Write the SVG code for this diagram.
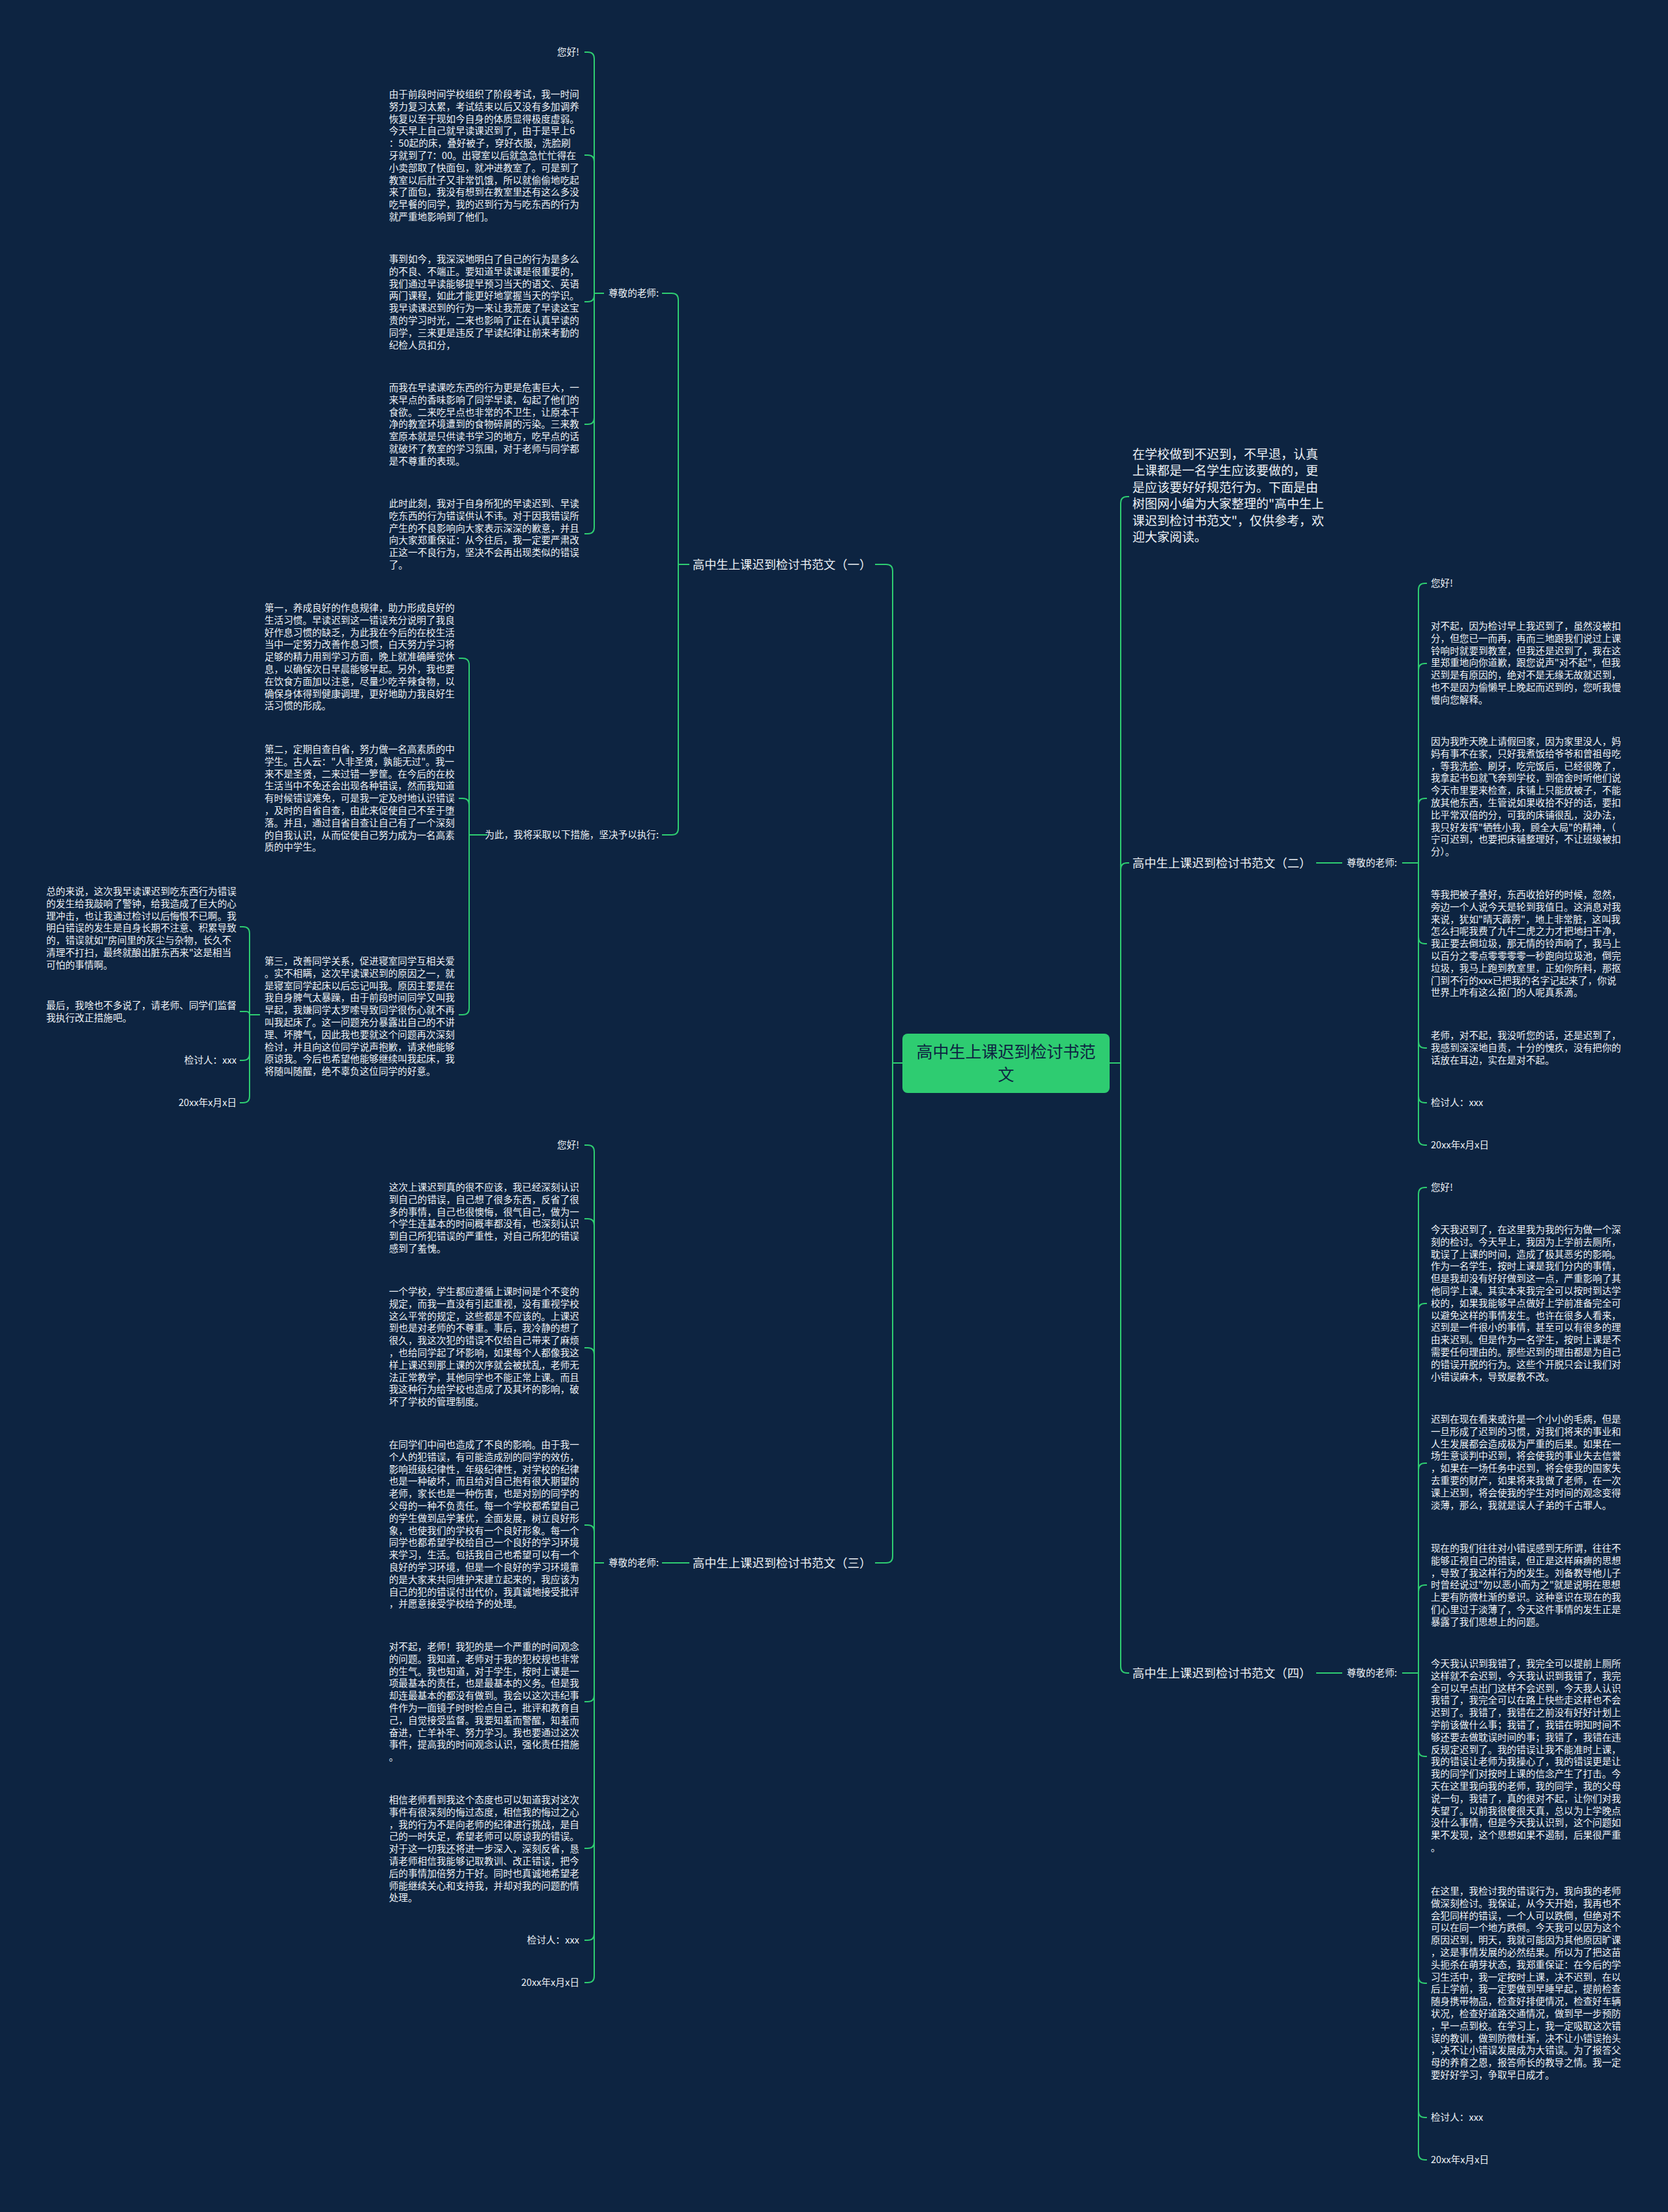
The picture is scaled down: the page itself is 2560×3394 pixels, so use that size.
<svg xmlns="http://www.w3.org/2000/svg" width="2560" height="3394" viewBox="0 0 2560 3394">
<style>
.t{font-family:"Noto Sans CJK SC","Liberation Sans",sans-serif;font-size:14.6px;fill:#eef2f6}
.e{text-anchor:end}
.lb{font-family:"Noto Sans CJK SC","Liberation Sans",sans-serif;font-size:18.3px;fill:#eef2f6}
.in{font-family:"Noto Sans CJK SC","Liberation Sans",sans-serif;font-size:19px;fill:#eef2f6}
.ct{font-family:"Noto Sans CJK SC","Liberation Sans",sans-serif;font-size:25px;fill:#0d2441;text-anchor:middle}
.ln{fill:none;stroke:#2ecc71;stroke-width:2}
</style>
<rect width="2560" height="3394" fill="#0d2441"/>
<g id="connectors" class="ln">
<path d="M1385 1631H1370V876Q1370 866 1360 866H1343"/>
<path d="M1385 1631H1370V2388Q1370 2398 1360 2398H1343"/>
<path d="M1703 1631H1720V772Q1720 762 1730 762H1733"/>
<path d="M1703 1631H1720V1334Q1720 1324 1730 1324H1733"/>
<path d="M1703 1631H1720V2557Q1720 2567 1730 2567H1733"/>
<path d="M1058 866H1041V460Q1041 450 1031 450H1016"/>
<path d="M1058 866H1041V1271Q1041 1281 1031 1281H1016"/>
<path d="M927 450H912V90Q912 80 902 80H897"/>
<path d="M927 450H912V248Q912 238 902 238H897"/>
<path d="M927 450H912V453Q912 463 902 463H897"/>
<path d="M927 450H912V641Q912 651 902 651H897"/>
<path d="M927 450H912V809Q912 819 902 819H897"/>
<path d="M748 1281H720V1020Q720 1010 710 1010H704"/>
<path d="M748 1281H720V1235Q720 1225 710 1225H704"/>
<path d="M748 1281H720V1547Q720 1557 710 1557H704"/>
<path d="M399 1557H383V1432Q383 1422 373 1422H368"/>
<path d="M399 1557H383Q383 1552 378 1552H368"/>
<path d="M399 1557H383V1617Q383 1627 373 1627H368"/>
<path d="M399 1557H383V1682Q383 1692 373 1692H368"/>
<path d="M1058 2398H1016"/>
<path d="M927 2398H912V1767Q912 1757 902 1757H897"/>
<path d="M927 2398H912V1880Q912 1870 902 1870H897"/>
<path d="M927 2398H912V2078Q912 2068 902 2068H897"/>
<path d="M927 2398H912V2350Q912 2340 902 2340H897"/>
<path d="M927 2398H912V2601Q912 2611 902 2611H897"/>
<path d="M927 2398H912V2826Q912 2836 902 2836H897"/>
<path d="M927 2398H912V2967Q912 2977 902 2977H897"/>
<path d="M927 2398H912V3032Q912 3042 902 3042H897"/>
<path d="M2020 1324H2060"/>
<path d="M2020 2567H2060"/>
<path d="M2152 1324H2177V905Q2177 895 2187 895H2190"/>
<path d="M2152 1324H2177V1028Q2177 1018 2187 1018H2190"/>
<path d="M2152 1324H2177V1235Q2177 1225 2187 1225H2190"/>
<path d="M2152 1324H2177V1438Q2177 1448 2187 1448H2190"/>
<path d="M2152 1324H2177V1598Q2177 1608 2187 1608H2190"/>
<path d="M2152 1324H2177V1682Q2177 1692 2187 1692H2190"/>
<path d="M2152 1324H2177V1747Q2177 1757 2187 1757H2190"/>
<path d="M2152 2567H2177V1832Q2177 1822 2187 1822H2190"/>
<path d="M2152 2567H2177V2010Q2177 2000 2187 2000H2190"/>
<path d="M2152 2567H2177V2255Q2177 2245 2187 2245H2190"/>
<path d="M2152 2567H2177V2442Q2177 2432 2187 2432H2190"/>
<path d="M2152 2567H2177V2685Q2177 2695 2187 2695H2190"/>
<path d="M2152 2567H2177V3033Q2177 3043 2187 3043H2190"/>
<path d="M2152 2567H2177V3239Q2177 3249 2187 3249H2190"/>
<path d="M2152 2567H2177V3304Q2177 3314 2187 3314H2190"/>
</g>
<g id="center">
<rect x="1385" y="1586" width="318" height="91" rx="8" fill="#2ecc71"/>
<text class="ct" x="1544" y="1623">高中生上课迟到检讨书范</text>
<text class="ct" x="1544" y="1658">文</text>
</g>
<g id="intro">
<text class="in" x="1738" y="704"><tspan x="1738">在学校做到不迟到，不早退，认真</tspan><tspan x="1738" dy="25.4">上课都是一名学生应该要做的，更</tspan><tspan x="1738" dy="25.4">是应该要好好规范行为。下面是由</tspan><tspan x="1738" dy="25.4">树图网小编为大家整理的"高中生上</tspan><tspan x="1738" dy="25.4">课迟到检讨书范文"，仅供参考，欢</tspan><tspan x="1738" dy="25.4">迎大家阅读。</tspan></text>
</g>
<g id="b1"><text class="lb" x="1063" y="872.5">高中生上课迟到检讨书范文（一）</text></g>
<g id="b1-t"><text class="t e" x="1011" y="455">尊敬的老师:</text></g>
<g id="b1-1"><text class="t e" x="889" y="85">您好!</text></g>
<g id="b1-2"><text class="t" x="597" y="150"><tspan x="597">由于前段时间学校组织了阶段考试，我一时间</tspan><tspan x="597" dy="18.8">努力复习太累，考试结束以后又没有多加调养</tspan><tspan x="597" dy="18.8">恢复以至于现如今自身的体质显得极度虚弱。</tspan><tspan x="597" dy="18.8">今天早上自己就早读课迟到了，由于是早上6</tspan><tspan x="597" dy="18.8">：50起的床，叠好被子，穿好衣服，洗脸刷</tspan><tspan x="597" dy="18.8">牙就到了7：00。出寝室以后就急急忙忙得在</tspan><tspan x="597" dy="18.8">小卖部取了快面包，就冲进教室了。可是到了</tspan><tspan x="597" dy="18.8">教室以后肚子又非常饥饿，所以就偷偷地吃起</tspan><tspan x="597" dy="18.8">来了面包，我没有想到在教室里还有这么多没</tspan><tspan x="597" dy="18.8">吃早餐的同学，我的迟到行为与吃东西的行为</tspan><tspan x="597" dy="18.8">就严重地影响到了他们。</tspan></text></g>
<g id="b1-3"><text class="t" x="597" y="403"><tspan x="597">事到如今，我深深地明白了自己的行为是多么</tspan><tspan x="597" dy="18.8">的不良、不端正。要知道早读课是很重要的，</tspan><tspan x="597" dy="18.8">我们通过早读能够提早预习当天的语文、英语</tspan><tspan x="597" dy="18.8">两门课程，如此才能更好地掌握当天的学识。</tspan><tspan x="597" dy="18.8">我早读课迟到的行为一来让我荒废了早读这宝</tspan><tspan x="597" dy="18.8">贵的学习时光，二来也影响了正在认真早读的</tspan><tspan x="597" dy="18.8">同学，三来更是违反了早读纪律让前来考勤的</tspan><tspan x="597" dy="18.8">纪检人员扣分，</tspan></text></g>
<g id="b1-4"><text class="t" x="597" y="600"><tspan x="597">而我在早读课吃东西的行为更是危害巨大，一</tspan><tspan x="597" dy="18.8">来早点的香味影响了同学早读，勾起了他们的</tspan><tspan x="597" dy="18.8">食欲。二来吃早点也非常的不卫生，让原本干</tspan><tspan x="597" dy="18.8">净的教室环境遭到的食物碎屑的污染。三来教</tspan><tspan x="597" dy="18.8">室原本就是只供读书学习的地方，吃早点的话</tspan><tspan x="597" dy="18.8">就破坏了教室的学习氛围，对于老师与同学都</tspan><tspan x="597" dy="18.8">是不尊重的表现。</tspan></text></g>
<g id="b1-5"><text class="t" x="597" y="778"><tspan x="597">此时此刻，我对于自身所犯的早读迟到、早读</tspan><tspan x="597" dy="18.8">吃东西的行为错误供认不讳。对于因我错误所</tspan><tspan x="597" dy="18.8">产生的不良影响向大家表示深深的歉意，并且</tspan><tspan x="597" dy="18.8">向大家郑重保证：从今往后，我一定要严肃改</tspan><tspan x="597" dy="18.8">正这一不良行为，坚决不会再出现类似的错误</tspan><tspan x="597" dy="18.8">了。</tspan></text></g>
<g id="b1-w"><text class="t e" x="1011" y="1286">为此，我将采取以下措施，坚决予以执行:</text></g>
<g id="b1-w1"><text class="t" x="406" y="938"><tspan x="406">第一，养成良好的作息规律，助力形成良好的</tspan><tspan x="406" dy="18.8">生活习惯。早读迟到这一错误充分说明了我良</tspan><tspan x="406" dy="18.8">好作息习惯的缺乏，为此我在今后的在校生活</tspan><tspan x="406" dy="18.8">当中一定努力改善作息习惯，白天努力学习将</tspan><tspan x="406" dy="18.8">足够的精力用到学习方面，晚上就准确睡觉休</tspan><tspan x="406" dy="18.8">息，以确保次日早晨能够早起。另外，我也要</tspan><tspan x="406" dy="18.8">在饮食方面加以注意，尽量少吃辛辣食物，以</tspan><tspan x="406" dy="18.8">确保身体得到健康调理，更好地助力我良好生</tspan><tspan x="406" dy="18.8">活习惯的形成。</tspan></text></g>
<g id="b1-w2"><text class="t" x="406" y="1155"><tspan x="406">第二，定期自查自省，努力做一名高素质的中</tspan><tspan x="406" dy="18.8">学生。古人云："人非圣贤，孰能无过"。我一</tspan><tspan x="406" dy="18.8">来不是圣贤，二来过错一箩筐。在今后的在校</tspan><tspan x="406" dy="18.8">生活当中不免还会出现各种错误，然而我知道</tspan><tspan x="406" dy="18.8">有时候错误难免，可是我一定及时地认识错误</tspan><tspan x="406" dy="18.8">，及时的自省自查，由此来促使自己不至于堕</tspan><tspan x="406" dy="18.8">落。并且，通过自省自查让自己有了一个深刻</tspan><tspan x="406" dy="18.8">的自我认识，从而促使自己努力成为一名高素</tspan><tspan x="406" dy="18.8">质的中学生。</tspan></text></g>
<g id="b1-w3"><text class="t" x="406" y="1480"><tspan x="406">第三，改善同学关系，促进寝室同学互相关爱</tspan><tspan x="406" dy="18.8">。实不相瞒，这次早读课迟到的原因之一，就</tspan><tspan x="406" dy="18.8">是寝室同学起床以后忘记叫我。原因主要是在</tspan><tspan x="406" dy="18.8">我自身脾气太暴躁，由于前段时间同学又叫我</tspan><tspan x="406" dy="18.8">早起，我嫌同学太罗嗦导致同学很伤心就不再</tspan><tspan x="406" dy="18.8">叫我起床了。这一问题充分暴露出自己的不讲</tspan><tspan x="406" dy="18.8">理、坏脾气，因此我也要就这个问题再次深刻</tspan><tspan x="406" dy="18.8">检讨，并且向这位同学说声抱歉，请求他能够</tspan><tspan x="406" dy="18.8">原谅我。今后也希望他能够继续叫我起床，我</tspan><tspan x="406" dy="18.8">将随叫随醒，绝不辜负这位同学的好意。</tspan></text></g>
<g id="b1-w3-1"><text class="t" x="71" y="1373"><tspan x="71">总的来说，这次我早读课迟到吃东西行为错误</tspan><tspan x="71" dy="18.8">的发生给我敲响了警钟，给我造成了巨大的心</tspan><tspan x="71" dy="18.8">理冲击，也让我通过检讨以后悔恨不已啊。我</tspan><tspan x="71" dy="18.8">明白错误的发生是自身长期不注意、积累导致</tspan><tspan x="71" dy="18.8">的，错误就如"房间里的灰尘与杂物，长久不</tspan><tspan x="71" dy="18.8">清理不打扫，最终就酿出脏东西来"这是相当</tspan><tspan x="71" dy="18.8">可怕的事情啊。</tspan></text></g>
<g id="b1-w3-2"><text class="t" x="71" y="1548"><tspan x="71">最后，我啥也不多说了，请老师、同学们监督</tspan><tspan x="71" dy="18.8">我执行改正措施吧。</tspan></text></g>
<g id="b1-w3-3"><text class="t e" x="363" y="1632">检讨人：xxx</text></g>
<g id="b1-w3-4"><text class="t e" x="363" y="1697">20xx年x月x日</text></g>
<g id="b3"><text class="lb" x="1063" y="2404.5">高中生上课迟到检讨书范文（三）</text></g>
<g id="b3-t"><text class="t e" x="1011" y="2403">尊敬的老师:</text></g>
<g id="b3-1"><text class="t e" x="889" y="1762">您好!</text></g>
<g id="b3-2"><text class="t" x="597" y="1827"><tspan x="597">这次上课迟到真的很不应该，我已经深刻认识</tspan><tspan x="597" dy="18.8">到自己的错误，自己想了很多东西，反省了很</tspan><tspan x="597" dy="18.8">多的事情，自己也很懊悔，很气自己，做为一</tspan><tspan x="597" dy="18.8">个学生连基本的时间概率都没有，也深刻认识</tspan><tspan x="597" dy="18.8">到自己所犯错误的严重性，对自己所犯的错误</tspan><tspan x="597" dy="18.8">感到了羞愧。</tspan></text></g>
<g id="b3-3"><text class="t" x="597" y="1987"><tspan x="597">一个学校，学生都应遵循上课时间是个不变的</tspan><tspan x="597" dy="18.8">规定，而我一直没有引起重视，没有重视学校</tspan><tspan x="597" dy="18.8">这么平常的规定，这些都是不应该的。上课迟</tspan><tspan x="597" dy="18.8">到也是对老师的不尊重。事后，我冷静的想了</tspan><tspan x="597" dy="18.8">很久，我这次犯的错误不仅给自己带来了麻烦</tspan><tspan x="597" dy="18.8">，也给同学起了坏影响，如果每个人都像我这</tspan><tspan x="597" dy="18.8">样上课迟到那上课的次序就会被扰乱，老师无</tspan><tspan x="597" dy="18.8">法正常教学，其他同学也不能正常上课。而且</tspan><tspan x="597" dy="18.8">我这种行为给学校也造成了及其坏的影响，破</tspan><tspan x="597" dy="18.8">坏了学校的管理制度。</tspan></text></g>
<g id="b3-4"><text class="t" x="597" y="2222"><tspan x="597">在同学们中间也造成了不良的影响。由于我一</tspan><tspan x="597" dy="18.8">个人的犯错误，有可能造成别的同学的效仿，</tspan><tspan x="597" dy="18.8">影响班级纪律性，年级纪律性，对学校的纪律</tspan><tspan x="597" dy="18.8">也是一种破坏，而且给对自己抱有很大期望的</tspan><tspan x="597" dy="18.8">老师，家长也是一种伤害，也是对别的同学的</tspan><tspan x="597" dy="18.8">父母的一种不负责任。每一个学校都希望自己</tspan><tspan x="597" dy="18.8">的学生做到品学兼优，全面发展，树立良好形</tspan><tspan x="597" dy="18.8">象，也使我们的学校有一个良好形象。每一个</tspan><tspan x="597" dy="18.8">同学也都希望学校给自己一个良好的学习环境</tspan><tspan x="597" dy="18.8">来学习，生活。包括我自己也希望可以有一个</tspan><tspan x="597" dy="18.8">良好的学习环境，但是一个良好的学习环境靠</tspan><tspan x="597" dy="18.8">的是大家来共同维护来建立起来的，我应该为</tspan><tspan x="597" dy="18.8">自己的犯的错误付出代价，我真诚地接受批评</tspan><tspan x="597" dy="18.8">，并愿意接受学校给予的处理。</tspan></text></g>
<g id="b3-5"><text class="t" x="597" y="2532"><tspan x="597">对不起，老师！我犯的是一个严重的时间观念</tspan><tspan x="597" dy="18.8">的问题。我知道，老师对于我的犯校规也非常</tspan><tspan x="597" dy="18.8">的生气。我也知道，对于学生，按时上课是一</tspan><tspan x="597" dy="18.8">项最基本的责任，也是最基本的义务。但是我</tspan><tspan x="597" dy="18.8">却连最基本的都没有做到。我会以这次违纪事</tspan><tspan x="597" dy="18.8">件作为一面镜子时时检点自己，批评和教育自</tspan><tspan x="597" dy="18.8">己，自觉接受监督。我要知羞而警醒，知羞而</tspan><tspan x="597" dy="18.8">奋进，亡羊补牢、努力学习。我也要通过这次</tspan><tspan x="597" dy="18.8">事件，提高我的时间观念认识，强化责任措施</tspan><tspan x="597" dy="18.8">。</tspan></text></g>
<g id="b3-6"><text class="t" x="597" y="2767"><tspan x="597">相信老师看到我这个态度也可以知道我对这次</tspan><tspan x="597" dy="18.8">事件有很深刻的悔过态度，相信我的悔过之心</tspan><tspan x="597" dy="18.8">，我的行为不是向老师的纪律进行挑战，是自</tspan><tspan x="597" dy="18.8">己的一时失足，希望老师可以原谅我的错误。</tspan><tspan x="597" dy="18.8">对于这一切我还将进一步深入，深刻反省，恳</tspan><tspan x="597" dy="18.8">请老师相信我能够记取教训、改正错误，把今</tspan><tspan x="597" dy="18.8">后的事情加倍努力干好。同时也真诚地希望老</tspan><tspan x="597" dy="18.8">师能继续关心和支持我，并却对我的问题酌情</tspan><tspan x="597" dy="18.8">处理。</tspan></text></g>
<g id="b3-7"><text class="t e" x="889" y="2982">检讨人：xxx</text></g>
<g id="b3-8"><text class="t e" x="889" y="3047">20xx年x月x日</text></g>
<g id="b2"><text class="lb" x="1738" y="1330.5">高中生上课迟到检讨书范文（二）</text></g>
<g id="b2-t"><text class="t" x="2067" y="1329">尊敬的老师:</text></g>
<g id="b2-1"><text class="t" x="2196" y="900">您好!</text></g>
<g id="b2-2"><text class="t" x="2196" y="966"><tspan x="2196">对不起，因为检讨早上我迟到了，虽然没被扣</tspan><tspan x="2196" dy="18.8">分，但您已一而再，再而三地跟我们说过上课</tspan><tspan x="2196" dy="18.8">铃响时就要到教室，但我还是迟到了，我在这</tspan><tspan x="2196" dy="18.8">里郑重地向你道歉，跟您说声"对不起"，但我</tspan><tspan x="2196" dy="18.8">迟到是有原因的，绝对不是无缘无故就迟到，</tspan><tspan x="2196" dy="18.8">也不是因为偷懒早上晚起而迟到的，您听我慢</tspan><tspan x="2196" dy="18.8">慢向您解释。</tspan></text></g>
<g id="b2-3"><text class="t" x="2196" y="1143"><tspan x="2196">因为我昨天晚上请假回家，因为家里没人，妈</tspan><tspan x="2196" dy="18.8">妈有事不在家，只好我煮饭给爷爷和曾祖母吃</tspan><tspan x="2196" dy="18.8">，等我洗脸、刷牙，吃完饭后，已经很晚了，</tspan><tspan x="2196" dy="18.8">我拿起书包就飞奔到学校，到宿舍时听他们说</tspan><tspan x="2196" dy="18.8">今天市里要来检查，床铺上只能放被子，不能</tspan><tspan x="2196" dy="18.8">放其他东西，生管说如果收拾不好的话，要扣</tspan><tspan x="2196" dy="18.8">比平常双倍的分，可我的床铺很乱，没办法，</tspan><tspan x="2196" dy="18.8">我只好发挥"牺牲小我，顾全大局"的精神，（</tspan><tspan x="2196" dy="18.8">宁可迟到，也要把床铺整理好，不让班级被扣</tspan><tspan x="2196" dy="18.8">分）。</tspan></text></g>
<g id="b2-4"><text class="t" x="2196" y="1378"><tspan x="2196">等我把被子叠好，东西收拾好的时候，忽然，</tspan><tspan x="2196" dy="18.8">旁边一个人说今天是轮到我值日。这消息对我</tspan><tspan x="2196" dy="18.8">来说，犹如"晴天霹雳"，地上非常脏，这叫我</tspan><tspan x="2196" dy="18.8">怎么扫呢我费了九牛二虎之力才把地扫干净，</tspan><tspan x="2196" dy="18.8">我正要去倒垃圾，那无情的铃声响了，我马上</tspan><tspan x="2196" dy="18.8">以百分之零点零零零零一秒跑向垃圾池，倒完</tspan><tspan x="2196" dy="18.8">垃圾，我马上跑到教室里，正如你所料，那抠</tspan><tspan x="2196" dy="18.8">门到不行的xxx已把我的名字记起来了，你说</tspan><tspan x="2196" dy="18.8">世界上咋有这么抠门的人呢真系滴。</tspan></text></g>
<g id="b2-5"><text class="t" x="2196" y="1594"><tspan x="2196">老师，对不起，我没听您的话，还是迟到了，</tspan><tspan x="2196" dy="18.8">我感到深深地自责，十分的愧疚，没有把你的</tspan><tspan x="2196" dy="18.8">话放在耳边，实在是对不起。</tspan></text></g>
<g id="b2-6"><text class="t" x="2196" y="1697">检讨人：xxx</text></g>
<g id="b2-7"><text class="t" x="2196" y="1762">20xx年x月x日</text></g>
<g id="b4"><text class="lb" x="1738" y="2573.5">高中生上课迟到检讨书范文（四）</text></g>
<g id="b4-t"><text class="t" x="2067" y="2572">尊敬的老师:</text></g>
<g id="b4-1"><text class="t" x="2196" y="1827">您好!</text></g>
<g id="b4-2"><text class="t" x="2196" y="1892"><tspan x="2196">今天我迟到了，在这里我为我的行为做一个深</tspan><tspan x="2196" dy="18.8">刻的检讨。今天早上，我因为上学前去厕所，</tspan><tspan x="2196" dy="18.8">耽误了上课的时间，造成了极其恶劣的影响。</tspan><tspan x="2196" dy="18.8">作为一名学生，按时上课是我们分内的事情，</tspan><tspan x="2196" dy="18.8">但是我却没有好好做到这一点，严重影响了其</tspan><tspan x="2196" dy="18.8">他同学上课。其实本来我完全可以按时到达学</tspan><tspan x="2196" dy="18.8">校的，如果我能够早点做好上学前准备完全可</tspan><tspan x="2196" dy="18.8">以避免这样的事情发生。也许在很多人看来，</tspan><tspan x="2196" dy="18.8">迟到是一件很小的事情，甚至可以有很多的理</tspan><tspan x="2196" dy="18.8">由来迟到。但是作为一名学生，按时上课是不</tspan><tspan x="2196" dy="18.8">需要任何理由的。那些迟到的理由都是为自己</tspan><tspan x="2196" dy="18.8">的错误开脱的行为。这些个开脱只会让我们对</tspan><tspan x="2196" dy="18.8">小错误麻木，导致屡教不改。</tspan></text></g>
<g id="b4-3"><text class="t" x="2196" y="2183"><tspan x="2196">迟到在现在看来或许是一个小小的毛病，但是</tspan><tspan x="2196" dy="18.8">一旦形成了迟到的习惯，对我们将来的事业和</tspan><tspan x="2196" dy="18.8">人生发展都会造成极为严重的后果。如果在一</tspan><tspan x="2196" dy="18.8">场生意谈判中迟到，将会使我的事业失去信誉</tspan><tspan x="2196" dy="18.8">，如果在一场任务中迟到，将会使我的国家失</tspan><tspan x="2196" dy="18.8">去重要的财产，如果将来我做了老师，在一次</tspan><tspan x="2196" dy="18.8">课上迟到，将会使我的学生对时间的观念变得</tspan><tspan x="2196" dy="18.8">淡薄，那么，我就是误人子弟的千古罪人。</tspan></text></g>
<g id="b4-4"><text class="t" x="2196" y="2381"><tspan x="2196">现在的我们往往对小错误感到无所谓，往往不</tspan><tspan x="2196" dy="18.8">能够正视自己的错误，但正是这样麻痹的思想</tspan><tspan x="2196" dy="18.8">，导致了我这样行为的发生。刘备教导他儿子</tspan><tspan x="2196" dy="18.8">时曾经说过"勿以恶小而为之"就是说明在思想</tspan><tspan x="2196" dy="18.8">上要有防微杜渐的意识。这种意识在现在的我</tspan><tspan x="2196" dy="18.8">们心里过于淡薄了，今天这件事情的发生正是</tspan><tspan x="2196" dy="18.8">暴露了我们思想上的问题。</tspan></text></g>
<g id="b4-5"><text class="t" x="2196" y="2558"><tspan x="2196">今天我认识到我错了，我完全可以提前上厕所</tspan><tspan x="2196" dy="18.8">这样就不会迟到，今天我认识到我错了，我完</tspan><tspan x="2196" dy="18.8">全可以早点出门这样不会迟到，今天我人认识</tspan><tspan x="2196" dy="18.8">我错了，我完全可以在路上快些走这样也不会</tspan><tspan x="2196" dy="18.8">迟到了。我错了，我错在之前没有好好计划上</tspan><tspan x="2196" dy="18.8">学前该做什么事；我错了，我错在明知时间不</tspan><tspan x="2196" dy="18.8">够还要去做耽误时间的事；我错了，我错在违</tspan><tspan x="2196" dy="18.8">反规定迟到了。我的错误让我不能准时上课，</tspan><tspan x="2196" dy="18.8">我的错误让老师为我操心了，我的错误更是让</tspan><tspan x="2196" dy="18.8">我的同学们对按时上课的信念产生了打击。今</tspan><tspan x="2196" dy="18.8">天在这里我向我的老师，我的同学，我的父母</tspan><tspan x="2196" dy="18.8">说一句，我错了，真的很对不起，让你们对我</tspan><tspan x="2196" dy="18.8">失望了。以前我很傻很天真，总以为上学晚点</tspan><tspan x="2196" dy="18.8">没什么事情，但是今天我认识到，这个问题如</tspan><tspan x="2196" dy="18.8">果不发现，这个思想如果不遏制，后果很严重</tspan><tspan x="2196" dy="18.8">。</tspan></text></g>
<g id="b4-6"><text class="t" x="2196" y="2907"><tspan x="2196">在这里，我检讨我的错误行为，我向我的老师</tspan><tspan x="2196" dy="18.8">做深刻检讨。我保证，从今天开始，我再也不</tspan><tspan x="2196" dy="18.8">会犯同样的错误，一个人可以跌倒，但绝对不</tspan><tspan x="2196" dy="18.8">可以在同一个地方跌倒。今天我可以因为这个</tspan><tspan x="2196" dy="18.8">原因迟到，明天，我就可能因为其他原因旷课</tspan><tspan x="2196" dy="18.8">，这是事情发展的必然结果。所以为了把这苗</tspan><tspan x="2196" dy="18.8">头扼杀在萌芽状态，我郑重保证：在今后的学</tspan><tspan x="2196" dy="18.8">习生活中，我一定按时上课，决不迟到，在以</tspan><tspan x="2196" dy="18.8">后上学前，我一定要做到早睡早起，提前检查</tspan><tspan x="2196" dy="18.8">随身携带物品，检查好排便情况，检查好车辆</tspan><tspan x="2196" dy="18.8">状况，检查好道路交通情况，做到早一步预防</tspan><tspan x="2196" dy="18.8">，早一点到校。在学习上，我一定吸取这次错</tspan><tspan x="2196" dy="18.8">误的教训，做到防微杜渐，决不让小错误抬头</tspan><tspan x="2196" dy="18.8">，决不让小错误发展成为大错误。为了报答父</tspan><tspan x="2196" dy="18.8">母的养育之恩，报答师长的教导之情。我一定</tspan><tspan x="2196" dy="18.8">要好好学习，争取早日成才。</tspan></text></g>
<g id="b4-7"><text class="t" x="2196" y="3254">检讨人：xxx</text></g>
<g id="b4-8"><text class="t" x="2196" y="3319">20xx年x月x日</text></g>
</svg>
